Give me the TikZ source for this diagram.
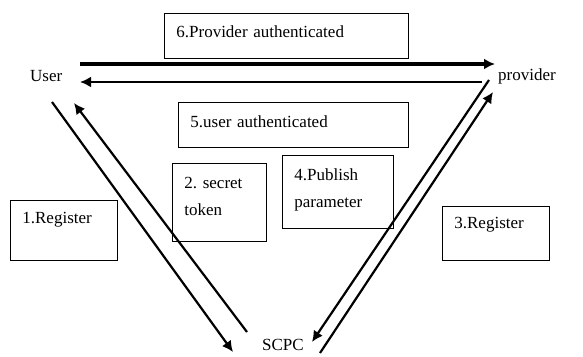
\documentclass[tikz,border=0pt]{standalone}
\usepackage{fontspec}
\setmainfont{Liberation Serif}
\usetikzlibrary{arrows.meta}
\frenchspacing
\tikzset{
  msgbox/.style={draw, line width=0.8pt, anchor=north west, align=left, inner xsep=12pt, inner ysep=0pt},
  party/.style={anchor=base west, inner sep=0pt},
  flow/.style={line width=2.2pt, -{Latex[length=11pt,width=11pt]}},
}
\begin{document}
\begin{tikzpicture}[x=1pt,y=-1pt,font=\fontsize{17}{27}\selectfont]
\useasboundingbox (0,0) rectangle (583,356);
% the three parties
\node[party] (user) at (30,81) {User};
\node[party] (provider) at (498,80) {provider};
\node[party] (scpc) at (262,350) {SCPC};
% message boxes
\node[msgbox, text width=220pt, text height=24pt, text depth=21pt] (auth6) at (164,13) {6.Provider authenticated};
\node[msgbox, text width=206pt, text height=25pt, text depth=20pt] (auth5) at (178,102) {5.user authenticated};
\node[msgbox, text width=70pt, text height=25pt, text depth=53pt] (token2) at (172,163) {2. secret\\token};
\node[msgbox, text width=87pt, text height=25pt, text depth=48pt] (param4) at (282,155) {4.Publish\\parameter};
\node[msgbox, text width=83pt, text height=23pt, text depth=37pt] (reg1) at (10,200) {1.Register};
\node[msgbox, text width=83pt, text height=22pt, text depth=32pt] (reg3) at (442,206) {3.Register};
% arrow ends
\coordinate (u1) at (80,64);  \coordinate (p1) at (495,64);
\coordinate (p2) at (482,82); \coordinate (u2) at (80,82);
\coordinate (u3) at (52,102); \coordinate (s1) at (233,352);
\coordinate (s2) at (247,332); \coordinate (u4) at (74,103);
\coordinate (s3) at (320,353); \coordinate (p3) at (493,92);
\coordinate (p4) at (489,80); \coordinate (s4) at (312,342);
\draw[flow, line width=3.8pt] (u1) -- (p1);
\draw[flow] (p2) -- (u2);
\draw[flow] (u3) -- (s1);
\draw[flow] (s2) -- (u4);
\draw[flow] (s3) -- (p3);
\draw[flow] (p4) -- (s4);
\end{tikzpicture}
\end{document}
